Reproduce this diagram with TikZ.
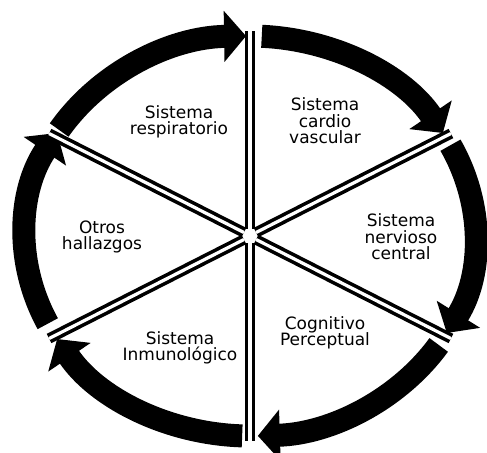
\documentclass[tikz,border=0pt]{standalone}
\usepackage{fontspec}
\setmainfont{DejaVu Sans}
\usepackage{tikz}
\usetikzlibrary{arrows.meta}

\begin{document}
\begin{tikzpicture}[x=0.5pt, y=0.5pt,
        cyclearrow/.style={line width=11.5pt, line cap=butt, -{Triangle[length=11pt, width=25pt]}},
        divider/.style={line width=1.8pt, double=white, double distance=1.6pt},
        label/.style={align=center, font=\fontsize{8.5}{8.3}\selectfont}]
    \useasboundingbox (-250,-216) rectangle (237,236);
    \coordinate (c) at (0,0);

    % arcs, clockwise
    \draw[cyclearrow] (148:225 and 200) arc[start angle=148, end angle=91, x radius=225, y radius=200];
    \draw[cyclearrow] (87:225 and 200) arc[start angle=87, end angle=31, x radius=225, y radius=200];
    \draw[cyclearrow] (27:225 and 200) arc[start angle=27, end angle=-29, x radius=225, y radius=200];
    \draw[cyclearrow] (-33:225 and 200) arc[start angle=-33, end angle=-88, x radius=225, y radius=200];
    \draw[cyclearrow] (-92:225 and 200) arc[start angle=-92, end angle=-149, x radius=225, y radius=200];
    \draw[cyclearrow] (-154:225 and 200) arc[start angle=-154, end angle=-211, x radius=225, y radius=200];

    % dividers
    \draw[divider] (90:7 and 7) -- (90:232 and 205);
    \draw[divider] (30:7 and 7) -- (30:232 and 205);
    \draw[divider] (-30:7 and 7) -- (-30:232 and 205);
    \draw[divider] (-90:7 and 7) -- (-90:232 and 205);
    \draw[divider] (-150:7 and 7) -- (-150:232 and 205);
    \draw[divider] (150:7 and 7) -- (150:232 and 205);

    \node[label] (resp) at (-71,114) {Sistema\\respiratorio};
    \node[label] (cardio) at (75,115) {Sistema\\cardio\\vascular};
    \node[label] (nervioso) at (151,-1) {Sistema\\nervioso\\central};
    \node[label] (cognitivo) at (75,-97) {Cognitivo\\Perceptual};
    \node[label] (inmuno) at (-70,-112) {Sistema\\Inmunológico};
    \node[label] (otros) at (-148,-1) {Otros\\hallazgos};
\end{tikzpicture}
\end{document}
